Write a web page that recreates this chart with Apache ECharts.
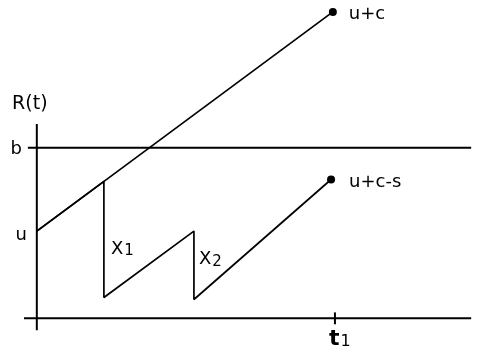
<!DOCTYPE html>
<html>
<head>
<meta charset="utf-8">
<script src="https://cdn.jsdelivr.net/npm/echarts@6/dist/echarts.min.js"></script>
<style>
  html, body { margin: 0; padding: 0; background: #fff; }
  #chart { width: 484px; height: 358px; }
</style>
</head>
<body>
<div id="chart"></div>
<script>
// Surplus process R(t): initial capital u, barrier b, horizon t1
const u = 8.8;
const b = 17.2;
const t1 = 10;

// Path with no claims: rises from u to u+c at the horizon
const freeT = [0, 9.93];
const freeR = [u, 30.9];

// Path with claims X1 and X2 (vertical drops), ending at u+c-s
const pathT = [0, 2.25, 2.25, 5.27, 5.27, 9.87];
const pathR = [u, 13.81, 2.1, 8.8, 1.9, 14.0];

// Axis extents
const timeAxisT = [-0.43, 14.57];
const valueAxisR = [-1.2, 19.6];
const barrierT = [-0.3, 14.57];
const tickR = [0.6, -0.6];

const claimNames = ['X1', 'X2'];
const endLabels = ['u+c', 'u+c-s'];

const font = '"DejaVu Sans", "Liberation Sans", Arial, sans-serif';
const ink = '#000';

function pairs(xs, ys) { return xs.map((x, i) => [x, ys[i]]); }

// points in the middle of each vertical drop, for the claim labels
const claimMids = [];
for (let i = 1; i < pathT.length; i++) {
  if (pathT[i] === pathT[i - 1]) {
    claimMids.push([pathT[i], (pathR[i] + pathR[i - 1]) / 2]);
  }
}

function endDotData(xs, ys, text, offset) {
  const last = xs.length - 1;
  return xs.map((x, i) => {
    if (i !== last) return { value: [x, ys[i]], symbol: 'none' };
    return {
      value: [x, ys[i]],
      symbol: 'circle',
      symbolSize: 8,
      label: {
        show: true, position: 'right', distance: 12, offset: offset,
        formatter: text, color: ink, fontSize: 18, fontFamily: font
      }
    };
  });
}

const plainLine = { color: ink, width: 2 };

// text-only marks: invisible symbols carrying a label
function textMark(point, label) {
  return {
    type: 'scatter', silent: true, clip: false, symbolSize: 0,
    itemStyle: { opacity: 1, color: ink },
    data: [point],
    label: Object.assign({ show: true, color: ink, fontFamily: font }, label)
  };
}

const chart = echarts.init(document.getElementById('chart'), null, { renderer: 'canvas' });

chart.setOption({
  animation: false,
  backgroundColor: '#fff',
  grid: { left: 7, top: 1, width: 480, height: 360, containLabel: false },
  xAxis: { type: 'value', min: -1, max: 15, show: false },
  yAxis: { type: 'value', min: -4, max: 32, show: false },
  series: [
    // time axis
    {
      type: 'line', silent: true, symbol: 'none', clip: false,
      data: pairs(timeAxisT, [0, 0]), lineStyle: plainLine
    },
    // R axis
    {
      type: 'line', silent: true, symbol: 'none', clip: false,
      data: pairs([0, 0], valueAxisR), lineStyle: plainLine
    },
    // barrier b
    {
      type: 'line', silent: true, symbol: 'none', clip: false,
      data: pairs(barrierT, [b, b]), lineStyle: plainLine
    },
    // tick at t1
    {
      type: 'line', silent: true, symbol: 'none', clip: false,
      data: pairs([t1, t1], tickR), lineStyle: plainLine
    },
    // path without claims
    {
      type: 'line', silent: true, clip: false,
      data: endDotData(freeT, freeR, endLabels[0], [0, 2]),
      itemStyle: { color: ink },
      lineStyle: { color: ink, width: 1.7 },
      label: { show: false }
    },
    // path with claims
    {
      type: 'line', silent: true, clip: false,
      data: endDotData(pathT, pathR, endLabels[1], [2, 3]),
      itemStyle: { color: ink },
      lineStyle: { color: ink, width: 1.7 },
      label: { show: false }
    },
    // axis title
    textMark([0, valueAxisR[1]], {
      position: 'top', distance: 10, offset: [-7, 0],
      formatter: 'R(t)', fontSize: 19
    }),
    // barrier name
    textMark([barrierT[0], b], {
      position: 'left', distance: 6, offset: [0, 2],
      formatter: 'b', fontSize: 18
    }),
    // initial capital
    textMark([0, u], {
      position: 'left', distance: 10, offset: [0, 4],
      formatter: 'u', fontSize: 18
    }),
    // horizon label under the tick
    textMark([t1, tickR[1]], {
      position: 'bottom', distance: 4, offset: [5, 0],
      formatter: '{a|t}{s|1}',
      rich: {
        a: { fontSize: 22, fontWeight: 'bold', lineHeight: 22, verticalAlign: 'top', color: ink, fontFamily: font },
        s: { fontSize: 16, lineHeight: 16, padding: [9, 0, 0, 1], verticalAlign: 'bottom', color: ink, fontFamily: font }
      }
    }),
    // claim size labels
    {
      type: 'scatter', silent: true, clip: false, symbolSize: 0,
      itemStyle: { opacity: 1, color: ink },
      data: claimMids.map((p, i) => ({
        value: p,
        label: {
          offset: i === 0 ? [0, 10] : [0, -5],
          distance: i === 0 ? 7 : 5
        }
      })),
      label: {
        show: true, position: 'right', color: ink,
        formatter: (p) => '{x|X}{s|' + claimNames[p.dataIndex].slice(1) + '}',
        rich: {
          x: { fontSize: 18, lineHeight: 19, verticalAlign: 'top', color: ink, fontFamily: font },
          s: { fontSize: 15, lineHeight: 15, padding: [7, 0, 0, 1], verticalAlign: 'bottom', color: ink, fontFamily: font }
        }
      }
    }
  ]
});
</script>
</body>
</html>
